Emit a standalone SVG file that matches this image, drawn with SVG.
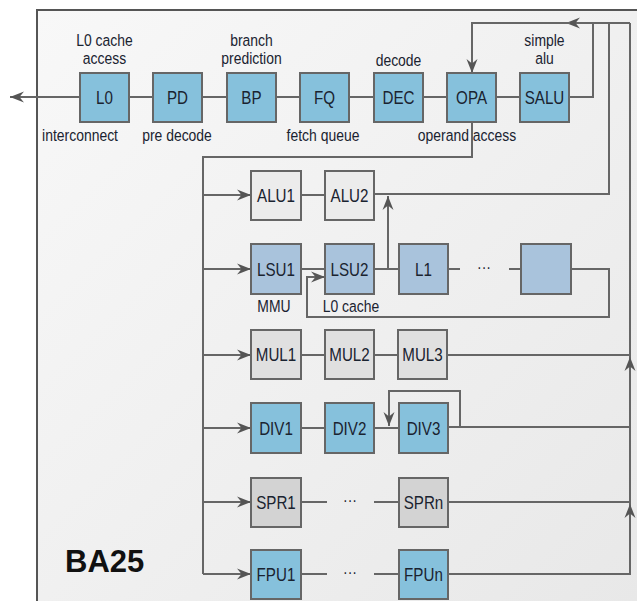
<svg xmlns="http://www.w3.org/2000/svg" width="637" height="601" viewBox="0 0 637 601">
<defs>
<linearGradient id="bg" x1="0" y1="0" x2="1" y2="1">
<stop offset="0" stop-color="#f8f8f8"/>
<stop offset="1" stop-color="#e8e8e8"/>
</linearGradient>
<marker id="ah" markerUnits="userSpaceOnUse" markerWidth="16" markerHeight="12" refX="14" refY="6" orient="auto">
<path d="M0,0.5 L14,6 L0,11.5 L4.5,6 z" fill="#555"/>
</marker>
<style>
.box{stroke:#666;stroke-width:2}
.blue{fill:#86c1dc}
.lsu{fill:#a9c3dc}
.g1{fill:#ececec}
.g2{fill:#e0e0e0}
.g3{fill:#d3d3d3}
.t,.s{font-family:"Liberation Sans",Arial,sans-serif;fill:#1a2330;text-anchor:middle;transform-box:fill-box;transform-origin:center;transform:scaleX(0.82)}
.t{font-size:18.5px}
.s{font-size:17px}
.c{fill:none;stroke:#666;stroke-width:2}
.a{marker-end:url(#ah)}
</style>
</defs>
<rect width="637" height="601" fill="#ffffff"/>
<rect x="38" y="11" width="600" height="592" fill="url(#bg)"/>
<path d="M37,605 L37,10 L640,10" fill="none" stroke="#555" stroke-width="2"/>

<g id="connectors">
<line class="c a" x1="80" y1="97" x2="10" y2="97"/>
<line class="c" x1="129" y1="97" x2="153" y2="97"/>
<line class="c" x1="202" y1="97" x2="227" y2="97"/>
<line class="c" x1="276" y1="97" x2="300" y2="97"/>
<line class="c" x1="349" y1="97" x2="374" y2="97"/>
<line class="c" x1="423" y1="97" x2="447" y2="97"/>
<line class="c" x1="496" y1="97" x2="520" y2="97"/>
<polyline class="c" points="569,97 593,97 593,23"/>
<polyline class="c a" points="630,23 566,23"/>
<polyline class="c a" points="570,23 472,23 472,73"/>
<polyline class="c" points="609,23 609,194 374,194"/>
<polyline class="c" points="630,23 630,574 448,574"/>
<polyline class="c" points="472,122 472,157 203,157 203,574"/>
<line class="c a" x1="203" y1="574" x2="251" y2="574"/>
<line class="c a" x1="203" y1="195" x2="251" y2="195"/>
<line class="c a" x1="203" y1="269" x2="251" y2="269"/>
<line class="c a" x1="203" y1="355" x2="251" y2="355"/>
<line class="c a" x1="203" y1="428" x2="251" y2="428"/>
<line class="c a" x1="203" y1="502" x2="251" y2="502"/>
<line class="c" x1="301" y1="195" x2="325" y2="195"/>
<line class="c" x1="301" y1="269" x2="325" y2="269"/>
<line class="c" x1="374" y1="269" x2="399" y2="269"/>
<line class="c a" x1="388" y1="269" x2="388" y2="196"/>
<line class="c" x1="448" y1="269" x2="460" y2="269"/>
<line class="c" x1="509" y1="269" x2="521" y2="269"/>
<polyline class="c a" points="571,269 609,269 609,317 307,317 307,277 325,277"/>
<line class="c" x1="301" y1="355" x2="325" y2="355"/>
<line class="c" x1="374" y1="355" x2="398" y2="355"/>
<line class="c" x1="447" y1="355" x2="630" y2="355"/>
<line class="c a" x1="630" y1="374" x2="630" y2="357"/>
<line class="c" x1="301" y1="428" x2="325" y2="428"/>
<line class="c" x1="374" y1="428" x2="399" y2="428"/>
<polyline class="c" points="448,427 630,427"/>
<polyline class="c a" points="460,427 460,391 389,391 389,426"/>
<line class="c" x1="301" y1="502" x2="327" y2="502"/>
<line class="c" x1="374" y1="502" x2="399" y2="502"/>
<line class="c" x1="448" y1="502" x2="630" y2="502"/>
<line class="c a" x1="630" y1="521" x2="630" y2="504"/>
<line class="c" x1="301" y1="574" x2="327" y2="574"/>
<line class="c" x1="374" y1="574" x2="399" y2="574"/>
</g>

<g id="L0"><rect class="box blue" x="80" y="73" width="49" height="49"/><text class="t" x="104.5" y="104">L0</text></g>
<g id="PD"><rect class="box blue" x="153" y="73" width="49" height="49"/><text class="t" x="177.5" y="104">PD</text></g>
<g id="BP"><rect class="box blue" x="227" y="73" width="49" height="49"/><text class="t" x="251.5" y="104">BP</text></g>
<g id="FQ"><rect class="box blue" x="300" y="73" width="49" height="49"/><text class="t" x="324.5" y="104">FQ</text></g>
<g id="DEC"><rect class="box blue" x="374" y="73" width="49" height="49"/><text class="t" x="398.5" y="104">DEC</text></g>
<g id="OPA"><rect class="box blue" x="447" y="73" width="49" height="49"/><text class="t" x="471.5" y="104">OPA</text></g>
<g id="SALU"><rect class="box blue" x="520" y="73" width="49" height="49"/><text class="t" x="544.5" y="104">SALU</text></g>

<g id="top-labels">
<text class="s" x="104.5" y="46">L0 cache</text>
<text class="s" x="104.5" y="64">access</text>
<text class="s" x="251.5" y="46">branch</text>
<text class="s" x="251.5" y="64">prediction</text>
<text class="s" x="398.5" y="66">decode</text>
<text class="s" x="544.5" y="46">simple</text>
<text class="s" x="544.5" y="64">alu</text>
<text class="s" x="80" y="141">interconnect</text>
<text class="s" x="177" y="141">pre decode</text>
<text class="s" x="323" y="141">fetch queue</text>
<text class="s" x="467" y="141">operand access</text>
</g>

<g id="ALU1"><rect class="box g1" x="251" y="171" width="50" height="49"/><text class="t" x="276" y="202">ALU1</text></g>
<g id="ALU2"><rect class="box g1" x="325" y="171" width="49" height="49"/><text class="t" x="349.5" y="202">ALU2</text></g>

<g id="LSU1"><rect class="box lsu" x="251" y="244" width="50" height="50"/><text class="t" x="276" y="276">LSU1</text></g>
<g id="LSU2"><rect class="box lsu" x="325" y="244" width="49" height="50"/><text class="t" x="349.5" y="276">LSU2</text></g>
<g id="L1"><rect class="box lsu" x="399" y="244" width="49" height="50"/><text class="t" x="423.5" y="276">L1</text></g>
<g id="dots-lsu"><text class="s" x="484" y="273">···</text></g>
<g id="Ln"><rect class="box lsu" x="521" y="244" width="50" height="50"/></g>
<g id="lsu-labels">
<text class="s" x="274" y="312">MMU</text>
<text class="s" x="351" y="312">L0 cache</text>
</g>

<g id="MUL1"><rect class="box g2" x="251" y="330" width="50" height="49"/><text class="t" x="276" y="361.5">MUL1</text></g>
<g id="MUL2"><rect class="box g2" x="325" y="330" width="49" height="49"/><text class="t" x="349.5" y="361.5">MUL2</text></g>
<g id="MUL3"><rect class="box g2" x="398" y="330" width="49" height="49"/><text class="t" x="422.5" y="361.5">MUL3</text></g>

<g id="DIV1"><rect class="box blue" x="251" y="403" width="50" height="50"/><text class="t" x="276" y="435">DIV1</text></g>
<g id="DIV2"><rect class="box blue" x="325" y="403" width="49" height="50"/><text class="t" x="349.5" y="435">DIV2</text></g>
<g id="DIV3"><rect class="box blue" x="399" y="403" width="49" height="50"/><text class="t" x="423.5" y="435">DIV3</text></g>

<g id="SPR1"><rect class="box g3" x="251" y="478" width="50" height="49"/><text class="t" x="276" y="509">SPR1</text></g>
<g id="dots-spr"><text class="s" x="350" y="506">···</text></g>
<g id="SPRn"><rect class="box g3" x="399" y="478" width="49" height="49"/><text class="t" x="423.5" y="509">SPRn</text></g>

<g id="FPU1"><rect class="box blue" x="251" y="550" width="50" height="49"/><text class="t" x="276" y="581">FPU1</text></g>
<g id="dots-fpu"><text class="s" x="350" y="578">···</text></g>
<g id="FPUn"><rect class="box blue" x="399" y="550" width="49" height="49"/><text class="t" x="423.5" y="581">FPUn</text></g>

<g id="title"><text x="65" y="572" font-family="Liberation Sans, Arial, sans-serif" font-weight="bold" font-size="31" fill="#111">BA25</text></g>
</svg>
